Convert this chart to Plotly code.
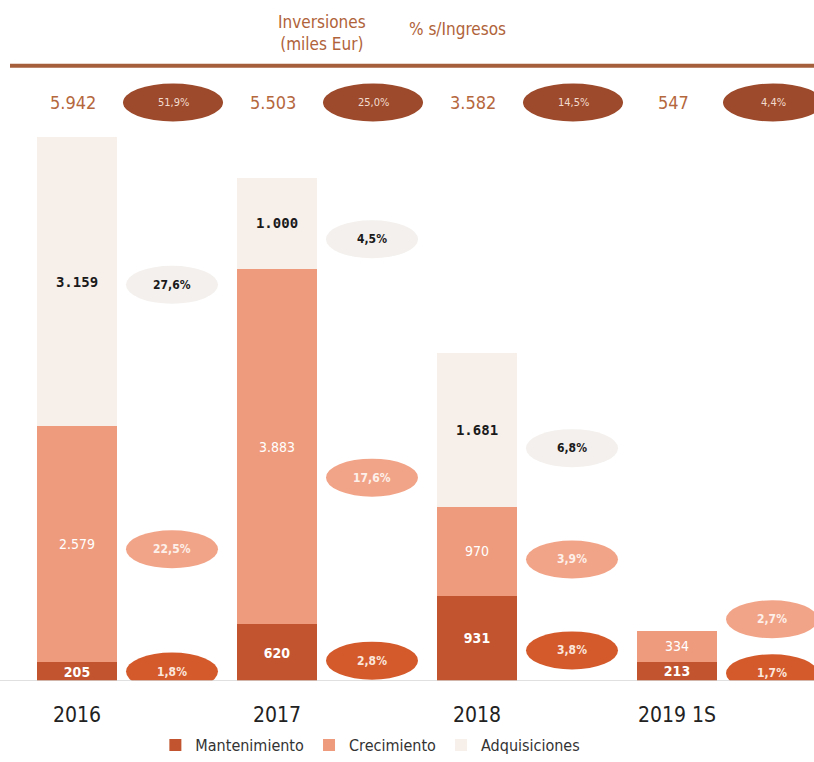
import plotly.graph_objects as go

# ---------------- data ----------------
years = ["2016", "2017", "2018", "2019 1S"]
mantenimiento = [205, 620, 931, 213]
crecimiento = [2579, 3883, 970, 334]
adquisiciones = [3159, 1000, 1681, 0]
totales = [5942, 5503, 3582, 547]

pct_mant = [1.8, 2.8, 3.8, 1.7]
pct_crec = [22.5, 17.6, 3.9, 2.7]
pct_adq = [27.6, 4.5, 6.8, None]
pct_total = [51.9, 25.0, 14.5, 4.4]

# ---------------- styling ----------------
FONT = "DejaVu Sans Condensed, Open Sans, sans-serif"
C_MANT = "#c2552f"
C_CREC = "#ee9b7d"
C_ADQ = "#f6efea"
E_MANT = "#d45a2c"
E_CREC = "#f2a488"
E_ADQ = "#f3f0ed"
E_TOT = "#9c4a2b"
C_NUM = "#b5673d"
C_HEAD = "#b0633a"

# pixel nudges for the percentage bubbles (layout only)
nudge_mant = [0, 8, 12, 2]
nudge_crec = [5, 31, 8, -27]
nudge_adq = [3, 16, 18, 0]

def fmt_int(v):
    return f"{v:,}".replace(",", ".")

def fmt_pct(v):
    return f"{v:.1f}%".replace(".", ",")

x = list(range(len(years)))

fig = go.Figure()
fig.add_bar(x=x, y=mantenimiento, name="Mantenimiento", marker_color=C_MANT,
            text=["<b>" + fmt_int(v) + "</b>" for v in mantenimiento], textposition="inside",
            insidetextanchor="middle",
            textfont=dict(color="white", size=14, family=FONT),
            width=0.4)
fig.add_bar(x=x, y=crecimiento, name="Crecimiento", marker_color=C_CREC,
            text=[fmt_int(v) for v in crecimiento], textposition="inside",
            insidetextanchor="middle",
            textfont=dict(color="white", size=14, family=FONT),
            width=0.4)
fig.add_bar(x=x, y=adquisiciones, name="Adquisiciones", marker_color=C_ADQ,
            text=["<b>" + fmt_int(v) + "</b>" if v else "" for v in adquisiciones],
            textposition="inside", insidetextanchor="middle",
            textfont=dict(color="#1a1a1a", size=14, family="DejaVu Sans Mono, monospace"),
            width=0.4)
for tr in fig.data:
    tr.marker.line.width = 0

shapes = []
annotations = []

def bubble(xc, yc, txt, fill, tcolor, nudge, w=92, h=38, size=12):
    shapes.append(dict(type="circle", xref="x", yref="y", xsizemode="pixel",
                       ysizemode="pixel", xanchor=xc, yanchor=yc,
                       x0=-w / 2, x1=w / 2, y0=-h / 2 - nudge, y1=h / 2 - nudge,
                       fillcolor=fill, line=dict(width=0), layer="above"))
    annotations.append(dict(x=xc, y=yc, xref="x", yref="y", text=txt, showarrow=False,
                            yshift=-nudge, xanchor="center", yanchor="middle",
                            font=dict(size=size, color=tcolor, family=FONT)))

OFF = 0.475
for i in x:
    m = mantenimiento[i]
    c = crecimiento[i]
    a = adquisiciones[i]
    bubble(i + OFF, m / 2, "<b>" + fmt_pct(pct_mant[i]) + "</b>", E_MANT, "#fbe6dc", nudge_mant[i])
    bubble(i + OFF, m + c / 2, "<b>" + fmt_pct(pct_crec[i]) + "</b>", E_CREC, "#fdf0ea", nudge_crec[i])
    if pct_adq[i] is not None:
        bubble(i + OFF, m + c + a / 2, "<b>" + fmt_pct(pct_adq[i]) + "</b>", E_ADQ,
               "#1a1a1a", nudge_adq[i])

# top row (totals)
TOP_Y = (684 - 103) / 684
for i in x:
    annotations.append(dict(x=i - 0.02, y=TOP_Y, xref="x", yref="paper",
                            xanchor="center", yanchor="middle",
                            text=fmt_int(totales[i]), showarrow=False,
                            font=dict(size=18, color=C_NUM, family=FONT)))
    shapes.append(dict(type="circle", xref="x", yref="paper", xsizemode="pixel",
                       ysizemode="pixel", xanchor=i + 0.48, yanchor=TOP_Y,
                       x0=-50, x1=50, y0=-19, y1=19,
                       fillcolor=E_TOT, line=dict(width=0)))
    annotations.append(dict(x=i + 0.48, y=TOP_Y, xref="x", yref="paper",
                            xanchor="center", yanchor="middle",
                            text=fmt_pct(pct_total[i]), showarrow=False,
                            font=dict(size=11, color="#f3dccf", family=FONT)))

# header
annotations.append(dict(x=322 / 814, y=(684 - 33) / 684, xref="paper", yref="paper",
                        xanchor="center", yanchor="middle",
                        text="Inversiones<br>(miles Eur)", showarrow=False,
                        font=dict(size=17, color=C_HEAD, family=FONT)))
annotations.append(dict(x=457 / 814, y=(684 - 29) / 684, xref="paper", yref="paper",
                        xanchor="center", yanchor="middle",
                        text="% s/Ingresos", showarrow=False,
                        font=dict(size=17, color=C_HEAD, family=FONT)))
shapes.append(dict(type="line", xref="paper", yref="paper", x0=10 / 814, x1=1,
                   y0=(684 - 66) / 684, y1=(684 - 66) / 684,
                   line=dict(color="#a65f3b", width=4)))
# baseline
shapes.append(dict(type="line", xref="paper", yref="y", x0=0, x1=1, y0=0, y1=0,
                   line=dict(color="#d6d6d6", width=1.5), layer="above"))

fig.update_layout(
    barmode="stack",
    width=814, height=762,
    margin=dict(l=0, r=0, t=0, b=78),
    plot_bgcolor="white", paper_bgcolor="white",
    showlegend=True,
    legend=dict(orientation="h", x=0.455, xanchor="center", y=-0.094, yanchor="middle",
                font=dict(size=16, color="#333333", family=FONT),
                itemwidth=30, traceorder="normal"),
    uniformtext=dict(minsize=14, mode="show"),
    shapes=shapes, annotations=annotations,
    font=dict(family=FONT),
)
fig.update_xaxes(range=[-0.385, 3.685], tickvals=x, ticktext=years, showgrid=False,
                 zeroline=False, showline=False, ticks="outside", ticklen=15,
                 tickcolor="rgba(0,0,0,0)",
                 tickfont=dict(size=21, color="#222222", family=FONT))
fig.update_yaxes(range=[0, 7443], visible=False, showgrid=False)

fig.write_html("out.html")
